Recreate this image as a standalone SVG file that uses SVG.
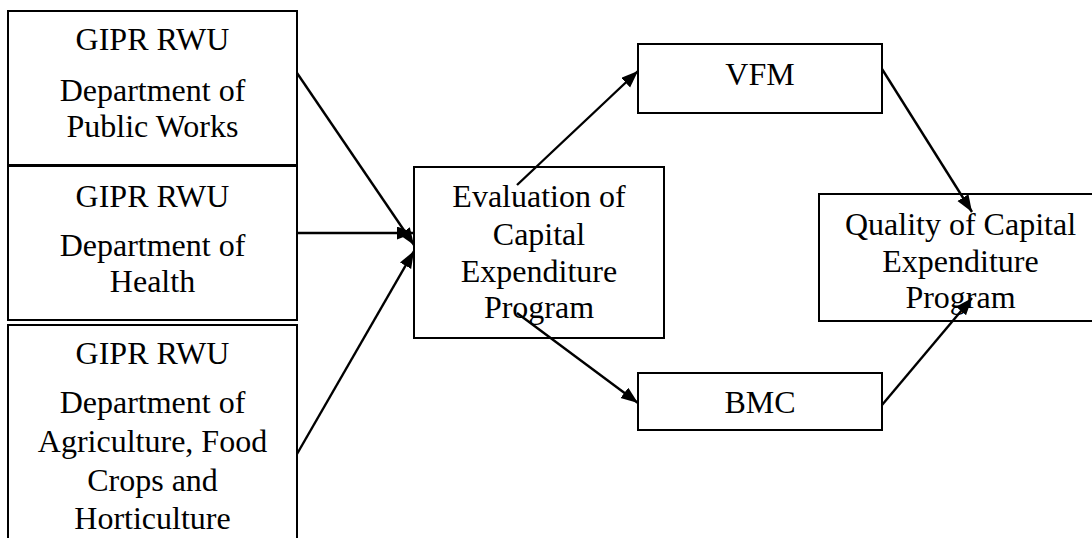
<svg xmlns="http://www.w3.org/2000/svg" width="1092" height="538" viewBox="0 0 1092 538">
<style>
.box{fill:#fff;stroke:#000;stroke-width:2}
.t{font-family:"Liberation Serif","Times New Roman",serif;font-size:32px;fill:#000;text-anchor:middle}
.c{stroke:#000;stroke-width:2.4;fill:none;marker-end:url(#ah)}
</style>
<defs>
<marker id="ah" markerUnits="userSpaceOnUse" markerWidth="18" markerHeight="14" refX="17" refY="6.5" orient="auto">
<path d="M0,0 L17,6.5 L0,13 z" fill="#000"/>
</marker>
</defs>
<rect width="1092" height="538" fill="#fff"/>
<g id="pw">
<rect class="box" x="8" y="11" width="289" height="154"/>
<text class="t" x="152.5" y="50">GIPR RWU</text>
<text class="t" x="152.5" y="101">Department of</text>
<text class="t" x="152.5" y="137">Public Works</text>
</g>
<g id="health">
<rect class="box" x="8" y="166" width="289" height="154"/>
<text class="t" x="152.5" y="207">GIPR RWU</text>
<text class="t" x="152.5" y="256">Department of</text>
<text class="t" x="152.5" y="292">Health</text>
</g>
<g id="agri">
<rect class="box" x="8" y="325" width="289" height="230"/>
<text class="t" x="152.5" y="364">GIPR RWU</text>
<text class="t" x="152.5" y="413">Department of</text>
<text class="t" x="152.5" y="452">Agriculture, Food</text>
<text class="t" x="152.5" y="491">Crops and</text>
<text class="t" x="152.5" y="529">Horticulture</text>
</g>
<g id="eval">
<rect class="box" x="414" y="167" width="250" height="171"/>
<text class="t" x="539" y="207">Evaluation of</text>
<text class="t" x="539" y="245">Capital</text>
<text class="t" x="539" y="282">Expenditure</text>
<text class="t" x="539" y="318">Program</text>
</g>
<g id="vfm">
<rect class="box" x="638" y="44" width="244" height="69"/>
<text class="t" x="760" y="85">VFM</text>
</g>
<g id="bmc">
<rect class="box" x="638" y="373" width="244" height="57"/>
<text class="t" x="760" y="413">BMC</text>
</g>
<g id="quality">
<rect class="box" x="819" y="194" width="283" height="127"/>
<text class="t" x="960.5" y="235">Quality of Capital</text>
<text class="t" x="960.5" y="272">Expenditure</text>
<text class="t" x="960.5" y="308">Program</text>
</g>
<g id="connectors">
<line class="c" x1="297" y1="73" x2="414" y2="245"/>
<line class="c" x1="297" y1="233" x2="414" y2="233"/>
<line class="c" x1="297" y1="454" x2="414" y2="251"/>
<line class="c" x1="517" y1="185" x2="638" y2="71"/>
<line class="c" x1="517" y1="313" x2="638" y2="403"/>
<line class="c" x1="882" y1="69" x2="972" y2="212"/>
<line class="c" x1="882" y1="405" x2="972" y2="298"/>
</g>
</svg>
